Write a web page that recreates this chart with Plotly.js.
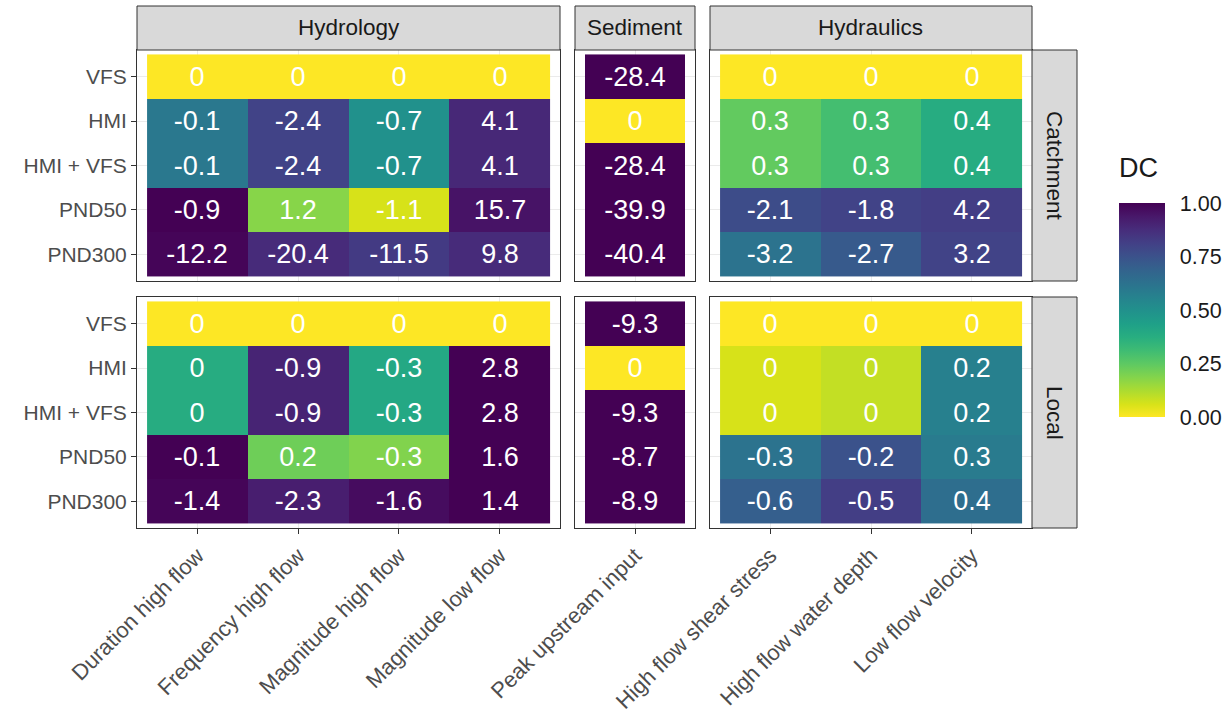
<!DOCTYPE html>
<html>
<head>
<meta charset="utf-8">
<script src="https://cdn.plot.ly/plotly-3.0.1.min.js"></script>
<style>html,body{margin:0;padding:0;background:#fff;}#chart{width:1232px;height:715px;}</style>
</head>
<body>
<div id="chart"></div>
<script>
// ---- data ----
const rows = ['VFS', 'HMI', 'HMI + VFS', 'PND50', 'PND300'];
const hydrologyCats = ['Duration high flow', 'Frequency high flow', 'Magnitude high flow', 'Magnitude low flow'];
const sedimentCats = ['Peak upstream input'];
const hydraulicsCats = ['High flow shear stress', 'High flow water depth', 'Low flow velocity'];

// printed change values (rows x columns)
const catchHydrologyLabels = [[0, 0, 0, 0], [-0.1, -2.4, -0.7, 4.1], [-0.1, -2.4, -0.7, 4.1], [-0.9, 1.2, -1.1, 15.7], [-12.2, -20.4, -11.5, 9.8]];
const catchSedimentLabels = [[-28.4], [0], [-28.4], [-39.9], [-40.4]];
const catchHydraulicsLabels = [[0, 0, 0], [0.3, 0.3, 0.4], [0.3, 0.3, 0.4], [-2.1, -1.8, 4.2], [-3.2, -2.7, 3.2]];
const localHydrologyLabels = [[0, 0, 0, 0], [0, -0.9, -0.3, 2.8], [0, -0.9, -0.3, 2.8], [-0.1, 0.2, -0.3, 1.6], [-1.4, -2.3, -1.6, 1.4]];
const localSedimentLabels = [[-9.3], [0], [-9.3], [-8.7], [-8.9]];
const localHydraulicsLabels = [[0, 0, 0], [0, 0, 0.2], [0, 0, 0.2], [-0.3, -0.2, 0.3], [-0.6, -0.5, 0.4]];

// DC fill values (estimated from colours)
const catchHydrologyDC = [[0, 0, 0, 0], [0.60, 0.80, 0.50, 0.89], [0.60, 0.80, 0.50, 0.89], [1.00, 0.18, 0.06, 0.95], [0.99, 0.88, 0.83, 0.88]];
const catchSedimentDC = [[1], [0], [1], [1], [1]];
const catchHydraulicsDC = [[0, 0, 0], [0.24, 0.30, 0.38], [0.24, 0.30, 0.38], [0.77, 0.80, 0.82], [0.62, 0.72, 0.80]];
const localHydrologyDC = [[0, 0, 0, 0], [0.38, 0.90, 0.40, 1.00], [0.38, 0.90, 0.40, 1.00], [1.00, 0.22, 0.19, 1.00], [0.99, 0.92, 0.97, 1.00]];
const localSedimentDC = [[1], [0], [1], [1], [1]];
const localHydraulicsDC = [[0, 0, 0], [0.06, 0.09, 0.57], [0.06, 0.09, 0.57], [0.62, 0.75, 0.59], [0.70, 0.82, 0.64]];

const colTitles = ['Hydrology', 'Sediment', 'Hydraulics'];
const rowTitles = ['Catchment', 'Local'];
const legendTitle = 'DC';
const legendTicks = [0, 0.25, 0.5, 0.75, 1];

// ---- layout geometry (pixels) ----
const W = 1232, H = 715;
const colPx = [[137, 560], [575, 695], [710, 1032]];
const rowPx = [[50, 281], [297, 528]];
const stripTop = 6, stripRight = 1077;
const cbar = {x: 1119, top: 203, bottom: 417, thick: 46};
const FONT = 'Liberation Sans, Arial, sans-serif';

const panels = [
  {cats: hydrologyCats, z: catchHydrologyDC, t: catchHydrologyLabels, c: 0, r: 0},
  {cats: sedimentCats, z: catchSedimentDC, t: catchSedimentLabels, c: 1, r: 0},
  {cats: hydraulicsCats, z: catchHydraulicsDC, t: catchHydraulicsLabels, c: 2, r: 0},
  {cats: hydrologyCats, z: localHydrologyDC, t: localHydrologyLabels, c: 0, r: 1},
  {cats: sedimentCats, z: localSedimentDC, t: localSedimentLabels, c: 1, r: 1},
  {cats: hydraulicsCats, z: localHydraulicsDC, t: localHydraulicsLabels, c: 2, r: 1}
];

const fx = px => px / W;
const fy = px => 1 - px / H;

const traces = [];
const layout = {
  width: W, height: H,
  margin: {l: 0, r: 0, t: 0, b: 0},
  paper_bgcolor: '#ffffff', plot_bgcolor: '#ffffff',
  font: {family: FONT, color: '#1A1A1A'},
  showlegend: false,
  shapes: [], annotations: [],
  coloraxis: {
    colorscale: 'Viridis', reversescale: true, cmin: 0, cmax: 1,
    colorbar: {
      thickness: cbar.thick, thicknessmode: 'pixels',
      len: cbar.bottom - cbar.top, lenmode: 'pixels',
      x: fx(cbar.x), xanchor: 'left',
      y: fy((cbar.top + cbar.bottom) / 2), yanchor: 'middle',
      xpad: 0, ypad: 0, outlinewidth: 0,
      tickvals: legendTicks, tickformat: '.2f',
      ticks: 'outside', ticklen: 11, tickcolor: '#ffffff', tickwidth: 1,
      tickfont: {size: 21.5, color: '#1A1A1A', family: FONT}
    }
  }
};

panels.forEach((p, i) => {
  const k = i + 1;
  const xa = 'xaxis' + (k === 1 ? '' : k), ya = 'yaxis' + (k === 1 ? '' : k);
  const xr = 'x' + (k === 1 ? '' : k), yr = 'y' + (k === 1 ? '' : k);
  traces.push({
    type: 'heatmap', x: p.cats, y: rows, z: p.z,
    text: p.t.map(r => r.map(v => String(v))),
    texttemplate: '%{text}',
    textfont: {color: '#ffffff', size: 27, family: FONT},
    coloraxis: 'coloraxis', xaxis: xr, yaxis: yr,
    xgap: 0, ygap: 0, hoverinfo: 'skip'
  });
  const bottom = p.r === 1, left = p.c === 0;
  layout[xa] = {
    domain: [fx(colPx[p.c][0]), fx(colPx[p.c][1])], anchor: yr,
    type: 'category', categoryorder: 'array', categoryarray: p.cats,
    range: [-0.6, p.cats.length - 0.4], fixedrange: true,
    showgrid: true, gridcolor: '#EBEBEB', gridwidth: 1, zeroline: false,
    showline: true, mirror: true, linecolor: '#333333', linewidth: 1,
    ticks: bottom ? 'outside' : '', ticklen: 5, tickcolor: '#333333', tickwidth: 1,
    showticklabels: bottom, tickangle: -45,
    tickfont: {size: 22, color: '#4D4D4D', family: FONT}, automargin: false
  };
  layout[ya] = {
    domain: [fy(rowPx[p.r][1]), fy(rowPx[p.r][0])], anchor: xr,
    type: 'category', categoryorder: 'array', categoryarray: rows,
    range: [rows.length - 0.4, -0.6], fixedrange: true,
    showgrid: true, gridcolor: '#EBEBEB', gridwidth: 1, zeroline: false,
    showline: true, mirror: true, linecolor: '#333333', linewidth: 1,
    ticks: left ? 'outside' : '', ticklen: 5, tickcolor: '#333333', tickwidth: 1,
    showticklabels: left,
    tickfont: {size: 21, color: '#4D4D4D', family: FONT}, automargin: false
  };
});

// top strips
colTitles.forEach((t, c) => {
  layout.shapes.push({type: 'rect', xref: 'paper', yref: 'paper',
    x0: fx(colPx[c][0]), x1: fx(colPx[c][1]), y0: fy(rowPx[0][0]), y1: fy(stripTop),
    fillcolor: '#D9D9D9', line: {color: '#333333', width: 1}, layer: 'above'});
  layout.annotations.push({xref: 'paper', yref: 'paper', showarrow: false,
    x: fx((colPx[c][0] + colPx[c][1]) / 2), y: fy((stripTop + rowPx[0][0]) / 2),
    xanchor: 'center', yanchor: 'middle', text: t,
    font: {size: 22.5, color: '#1A1A1A', family: FONT}});
});
// right strips
rowTitles.forEach((t, r) => {
  layout.shapes.push({type: 'rect', xref: 'paper', yref: 'paper',
    x0: fx(colPx[2][1]), x1: fx(stripRight), y0: fy(rowPx[r][1]), y1: fy(rowPx[r][0]),
    fillcolor: '#D9D9D9', line: {color: '#333333', width: 1}, layer: 'above'});
  layout.annotations.push({xref: 'paper', yref: 'paper', showarrow: false,
    x: fx((colPx[2][1] + stripRight) / 2), y: fy((rowPx[r][0] + rowPx[r][1]) / 2),
    xanchor: 'center', yanchor: 'middle', text: t, textangle: 90,
    font: {size: 22.5, color: '#1A1A1A', family: FONT}});
});
// legend title
layout.annotations.push({xref: 'paper', yref: 'paper', showarrow: false,
  x: fx(cbar.x - 2), y: fy(cbar.top - 18), xanchor: 'left', yanchor: 'bottom',
  text: legendTitle, font: {size: 27, color: '#1A1A1A', family: FONT}});
// white ticks on both sides of the colour bar
legendTicks.forEach(v => {
  const py = cbar.bottom - v * (cbar.bottom - cbar.top);
  [[cbar.x, cbar.x + 9], [cbar.x + cbar.thick - 9, cbar.x + cbar.thick]].forEach(([a, b]) => {
    layout.shapes.push({type: 'line', xref: 'paper', yref: 'paper',
      x0: fx(a), x1: fx(b), y0: fy(py), y1: fy(py),
      line: {color: '#ffffff', width: 1}, layer: 'above'});
  });
});

Plotly.newPlot('chart', traces, layout, {displayModeBar: false, staticPlot: true});
</script>
</body>
</html>
